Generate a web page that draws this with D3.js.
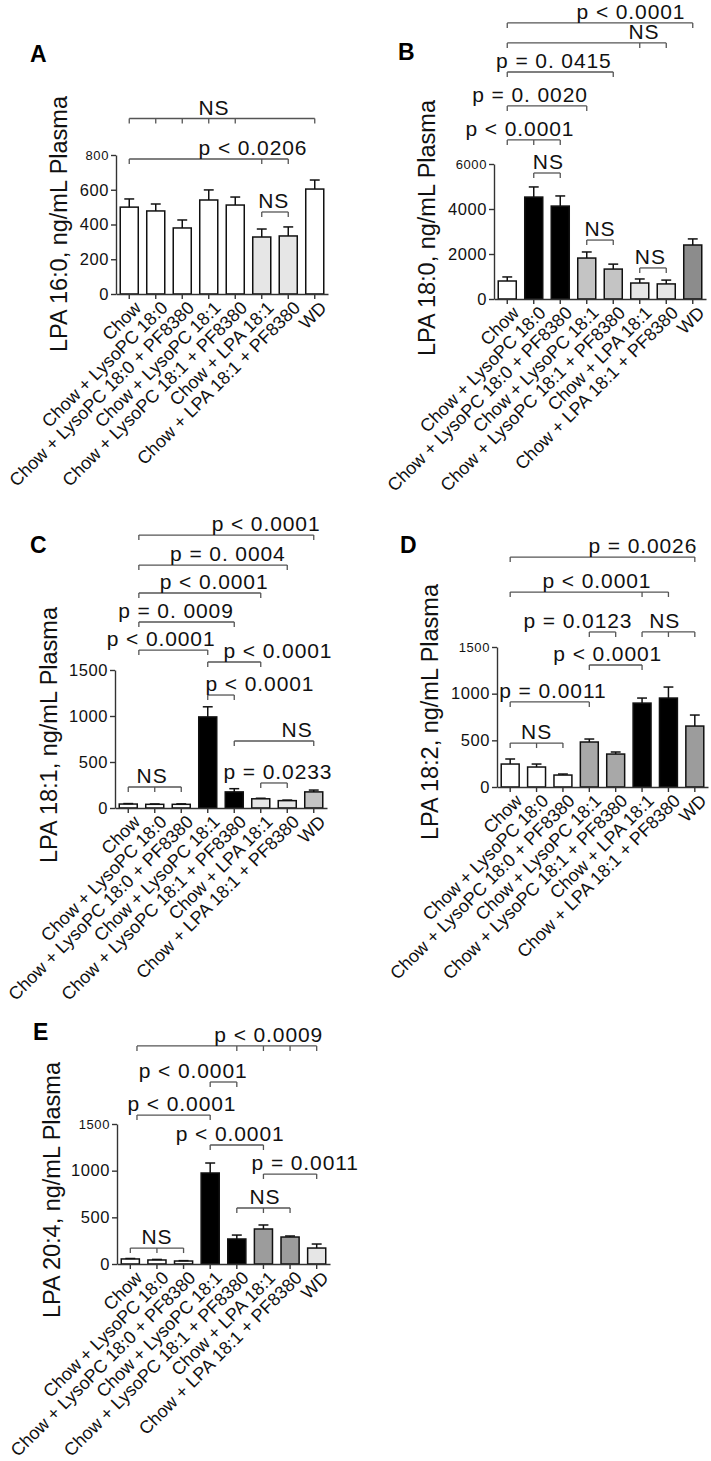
<!DOCTYPE html>
<html>
<head>
<meta charset="utf-8">
<script src="https://cdn.jsdelivr.net/npm/d3@7"></script>
<style>
  body { margin: 0; background: #fff; }
  svg { display: block; font-family: Arial, "Liberation Sans", sans-serif; }
</style>
</head>
<body>
<div id="chart"></div>
<script>
// groups, same order in every panel
const categories = [
  "Chow",
  "Chow + LysoPC 18:0",
  "Chow + LysoPC 18:0 + PF8380",
  "Chow + LysoPC 18:1",
  "Chow + LysoPC 18:1 + PF8380",
  "Chow + LPA 18:1",
  "Chow + LPA 18:1 + PF8380",
  "WD"
];

// mean and SEM, ng/mL plasma
const lpa160Mean = [500, 478, 380, 541, 512, 328, 334, 604];
const lpa160Sem  = [47, 40, 46, 58, 46, 46, 52, 52];
const lpa180Mean = [800, 4530, 4130, 1820, 1330, 710, 670, 2400];
const lpa180Sem  = [180, 450, 450, 270, 220, 180, 170, 270];
const lpa181Mean = [43, 40, 40, 990, 175, 100, 80, 175];
const lpa181Sem  = [5, 4, 5, 110, 35, 6, 6, 20];
const lpa182Mean = [246, 214, 128, 482, 353, 899, 953, 653];
const lpa182Sem  = [54, 32, 11, 32, 22, 54, 118, 118];
const lpa204Mean = [54, 43, 32, 975, 268, 375, 289, 171];
const lpa204Sem  = [5, 6, 4, 107, 42, 43, 11, 43];

const ticks800  = [0, 200, 400, 600, 800];
const ticks6000 = [0, 2000, 4000, 6000];
const ticks1500 = [0, 500, 1000, 1500];

const width = 711;
const height = 1461;

const svg = d3.select("#chart")
  .append("svg")
  .attr("width", width)
  .attr("height", height);

svg.append("rect").attr("width", width).attr("height", height).attr("fill", "#fff");

const W = "#ffffff", K = "#000000", L1 = "#e6e6e6", L2 = "#c4c4c4", G = "#9c9c9c";

const panels = [
  {
    letter: "A", title: "LPA 16:0, ng/mL Plasma",
    mean: lpa160Mean, sem: lpa160Sem, ticks: ticks800,
    box: { left: 116, right: 328, top: 155, bottom: 294 },
    letterAt: [30, 62], titleAt: [67, 224],
    fills: [W, W, W, W, W, L1, L1, W],
    smallTop: true,
    brackets: [
      { text: "NS", bars: [0, 1, 2, 3, 4, 7], level: 1010, at: 3.2 },
      { text: "p < 0.0206", bars: [0, 5, 6], level: 777, at: 4.67 },
      { text: "NS", bars: [5, 6], level: 472, at: 5.45 }
    ]
  },
  {
    letter: "B", title: "LPA 18:0, ng/mL Plasma",
    mean: lpa180Mean, sem: lpa180Sem, ticks: ticks6000,
    box: { left: 494, right: 706, top: 164, bottom: 299 },
    letterAt: [398, 60], titleAt: [435, 228],
    fills: [W, K, K, L2, L2, L1, L1, "#8c8c8c"],
    smallTop: true,
    brackets: [
      { text: "p < 0.0001", bars: [0, 7], level: 12270, at: 4.67 },
      { text: "NS", bars: [0, 5, 6], level: 11380, at: 5.16 },
      { text: "p = 0. 0415", bars: [0, 4], level: 10090, at: 1.76 },
      { text: "p = 0. 0020", bars: [0, 3], level: 8580, at: 0.86 },
      { text: "p < 0.0001", bars: [0, 1, 2], level: 7070, at: 0.48 },
      { text: "NS", bars: [1, 2], level: 5600, at: 1.55 },
      { text: "NS", bars: [3, 4], level: 2620, at: 3.5 },
      { text: "NS", bars: [5, 6], level: 1380, at: 5.4 }
    ]
  },
  {
    letter: "C", title: "LPA 18:1, ng/mL Plasma",
    mean: lpa181Mean, sem: lpa181Sem, ticks: ticks1500,
    box: { left: 115, right: 327, top: 670, bottom: 808 },
    letterAt: [30, 553], titleAt: [57, 735],
    fills: [W, W, W, K, K, L1, L1, L2],
    smallTop: false,
    brackets: [
      { text: "p < 0.0001", bars: [0.4, 7], level: 2967, at: 5.2 },
      { text: "p = 0. 0004", bars: [0.4, 6], level: 2641, at: 3.76 },
      { text: "p < 0.0001", bars: [0.4, 5], level: 2337, at: 3.24 },
      { text: "p = 0. 0009", bars: [0.4, 4], level: 2022, at: 1.8 },
      { text: "p < 0.0001", bars: [0.4, 3], level: 1717, at: 1.24 },
      { text: "p < 0.0001", bars: [3, 5], level: 1587, at: 5.65 },
      { text: "p < 0.0001", bars: [3, 4], level: 1228, at: 4.97 },
      { text: "NS", bars: [4, 7], level: 728, at: 6.37 },
      { text: "p = 0.0233", bars: [5, 6], level: 272, at: 5.65 },
      { text: "NS", bars: [0, 1, 2], level: 228, at: 0.9 }
    ]
  },
  {
    letter: "D", title: "LPA 18:2, ng/mL Plasma",
    mean: lpa182Mean, sem: lpa182Sem, ticks: ticks1500,
    box: { left: 497, right: 708, top: 647, bottom: 787 },
    letterAt: [400, 553], titleAt: [438, 712],
    fills: [W, W, W, "#a8a8a8", "#a8a8a8", K, K, G],
    smallTop: true,
    brackets: [
      { text: "p = 0.0026", bars: [0, 7], level: 2464, at: 5.03 },
      { text: "p < 0.0001", bars: [0, 5, 6], level: 2089, at: 3.29 },
      { text: "p = 0.0123", bars: [3, 4], level: 1661, at: 2.57 },
      { text: "NS", bars: [5, 6, 7], level: 1661, at: 5.86 },
      { text: "p < 0.0001", bars: [3, 5], level: 1307, at: 3.7 },
      { text: "p = 0.0011", bars: [0, 3], level: 911, at: 1.62 },
      { text: "NS", bars: [0, 1, 2], level: 471, at: 1.0 }
    ]
  },
  {
    letter: "E", title: "LPA 20:4, ng/mL Plasma",
    mean: lpa204Mean, sem: lpa204Sem, ticks: ticks1500,
    box: { left: 117, right: 330, top: 1124, bottom: 1264 },
    letterAt: [33, 1040], titleAt: [60, 1190],
    fills: [W, W, W, K, K, G, G, L1],
    smallTop: true,
    brackets: [
      { text: "p < 0.0009", bars: [0.25, 4, 5, 6, 7], level: 2336, at: 5.2 },
      { text: "p < 0.0001", bars: [3, 4], level: 1950, at: 2.36 },
      { text: "p < 0.0001", bars: [0.25, 3], level: 1596, at: 1.94 },
      { text: "p < 0.0001", bars: [3, 5], level: 1275, at: 3.75 },
      { text: "p = 0.0011", bars: [5, 7], level: 964, at: 6.57 },
      { text: "NS", bars: [4, 5, 6], level: 600, at: 5.06 },
      { text: "NS", bars: [0, 1, 2], level: 171, at: 1.0 }
    ]
  }
];

function drawPanel(p) {
  const g = svg.append("g");
  const ymax = p.ticks[p.ticks.length - 1];

  const x = d3.scaleBand()
    .domain(d3.range(categories.length))
    .range([p.box.left, p.box.right])
    .paddingInner(0.32)
    .paddingOuter(0.16);

  const y = d3.scaleLinear()
    .domain([0, ymax])
    .range([p.box.bottom, p.box.top]);

  // centre of a (possibly fractional) bar index
  const xc = i => x(0) + x.bandwidth() / 2 + i * x.step();

  // bars
  g.append("g")
    .selectAll("rect")
    .data(p.mean)
    .join("rect")
    .attr("x", (d, i) => x(i))
    .attr("y", d => y(d))
    .attr("width", x.bandwidth())
    .attr("height", d => y(0) - y(d))
    .attr("fill", (d, i) => p.fills[i])
    .attr("stroke", "#111")
    .attr("stroke-width", 1.5);

  // error bars (upper half only)
  const cap = x.bandwidth() * 0.55;
  const eb = g.append("g").attr("stroke", "#111").attr("stroke-width", 1.5);
  eb.selectAll("line.v")
    .data(p.mean)
    .join("line")
    .attr("class", "v")
    .attr("x1", (d, i) => xc(i)).attr("x2", (d, i) => xc(i))
    .attr("y1", d => y(d))
    .attr("y2", (d, i) => y(d + p.sem[i]));
  eb.selectAll("line.c")
    .data(p.mean)
    .join("line")
    .attr("class", "c")
    .attr("x1", (d, i) => xc(i) - cap / 2).attr("x2", (d, i) => xc(i) + cap / 2)
    .attr("y1", (d, i) => y(d + p.sem[i]))
    .attr("y2", (d, i) => y(d + p.sem[i]));

  // axes
  const yAxis = g.append("g")
    .attr("transform", `translate(${p.box.left},0)`)
    .call(d3.axisLeft(y).tickValues(p.ticks).tickFormat(d3.format("d"))
      .tickSize(5).tickSizeOuter(0).tickPadding(2));
  yAxis.selectAll("text")
    .attr("font-size", 16.5)
    .attr("letter-spacing", 0.6)
    .attr("fill", "#111");
  if (p.smallTop) yAxis.selectAll(".tick:last-of-type text").attr("font-size", 13);

  const xAxis = g.append("g")
    .attr("transform", `translate(0,${p.box.bottom})`)
    .call(d3.axisBottom(x).tickFormat(i => categories[i]).tickSize(5).tickSizeOuter(0));
  xAxis.selectAll("text")
    .attr("x", 0).attr("y", 0)
    .attr("dy", "0.55em")
    .attr("transform", "translate(6,8) rotate(-45)")
    .attr("text-anchor", "end")
    .attr("font-size", 18)
    .attr("fill", "#111");

  [yAxis, xAxis].forEach(a => {
    a.select(".domain").attr("stroke", "#333").attr("stroke-width", 1.4);
    a.selectAll(".tick line").attr("stroke", "#333").attr("stroke-width", 1.4);
  });

  // significance brackets
  const br = g.append("g");
  p.brackets.forEach(b => {
    const yy = y(b.level);
    const xs = b.bars.map(xc);
    const bg = br.append("g").attr("stroke", "#555").attr("stroke-width", 1.3).attr("fill", "none");
    bg.append("line")
      .attr("x1", d3.min(xs)).attr("x2", d3.max(xs))
      .attr("y1", yy).attr("y2", yy);
    bg.selectAll("line.t")
      .data(xs)
      .join("line")
      .attr("class", "t")
      .attr("x1", d => d).attr("x2", d => d)
      .attr("y1", yy).attr("y2", yy + 5);
    br.append("text")
      .attr("x", xc(b.at))
      .attr("y", yy - 4)
      .attr("text-anchor", "middle")
      .attr("font-size", 21)
      .attr("letter-spacing", 0.9)
      .attr("fill", "#111")
      .text(b.text);
  });

  // y title and panel letter
  g.append("text")
    .attr("transform", `translate(${p.titleAt[0]},${p.titleAt[1]}) rotate(-90)`)
    .attr("text-anchor", "middle")
    .attr("font-size", 23.5)
    .attr("fill", "#111")
    .text(p.title);

  g.append("text")
    .attr("x", p.letterAt[0])
    .attr("y", p.letterAt[1])
    .attr("font-size", 23)
    .attr("font-weight", "bold")
    .attr("fill", "#000")
    .text(p.letter);
}

panels.forEach(drawPanel);
</script>
</body>
</html>
